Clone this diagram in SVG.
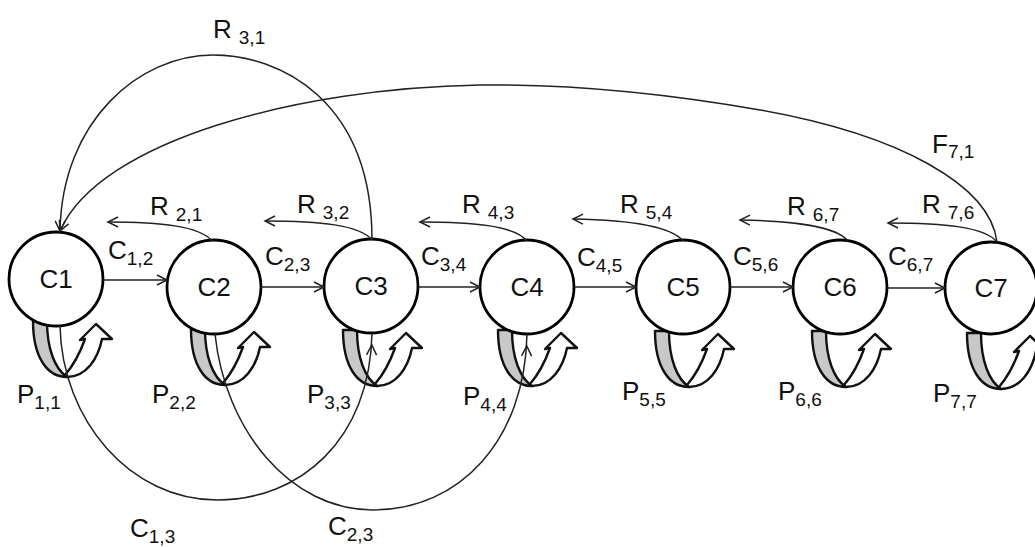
<svg xmlns="http://www.w3.org/2000/svg" xmlns:xlink="http://www.w3.org/1999/xlink" width="1035" height="547" viewBox="0 0 1035 547">
<style>
.t{font-family:"Liberation Sans",Arial,sans-serif;font-size:26px;fill:#111}
.s{font-size:19px}
.c{fill:#fff;stroke:#000;stroke-width:2.8}
.e{fill:none;stroke:#222;stroke-width:1.5}
.g{fill:#c8c8c8;stroke:#111;stroke-width:2.4;stroke-linejoin:round}
.w{fill:#fff;stroke:#111;stroke-width:2.4;stroke-linejoin:round}
</style>
<defs>
<marker id="ah" markerUnits="userSpaceOnUse" markerWidth="14" markerHeight="14" refX="11" refY="6" orient="auto" overflow="visible">
<path d="M1,1 L11,6 L1,11" fill="none" stroke="#222" stroke-width="1.5"/>
</marker>
<marker id="ahIn" markerUnits="userSpaceOnUse" markerWidth="14" markerHeight="14" refX="23" refY="6" orient="auto" overflow="visible">
<path d="M1,1 L11,6 L1,11" fill="none" stroke="#222" stroke-width="1.5"/>
</marker>
<g id="loop">
<path class="g" d="M-28,44 L-14,44 C-14,72 -6,92 6,100 C-14,100 -28,80 -28,44 Z"/>
<path class="w" d="M4,98 C11,90 19,76 24,62 L19,63 L35,47 L51,62 L41,62 C37,82 25,100 6,100 Z"/>
</g>
</defs>

<g id="C1">
<use xlink:href="#loop" transform="translate(61,277)"/>
<circle class="c" cx="56" cy="279" r="47"/>
<text class="t" x="56" y="288" text-anchor="middle">C1</text>
<text class="t" x="17" y="403">P<tspan class="s" dy="6">1,1</tspan></text>
</g>
<g id="C2">
<use xlink:href="#loop" transform="translate(219,285)"/>
<circle class="c" cx="214" cy="287" r="47"/>
<text class="t" x="214" y="296" text-anchor="middle">C2</text>
<text class="t" x="152" y="403">P<tspan class="s" dy="6">2,2</tspan></text>
</g>
<g id="C3">
<use xlink:href="#loop" transform="translate(371,286)"/>
<circle class="c" cx="371" cy="286" r="47"/>
<text class="t" x="371" y="295" text-anchor="middle">C3</text>
<text class="t" x="307" y="403">P<tspan class="s" dy="6">3,3</tspan></text>
</g>
<g id="C4">
<use xlink:href="#loop" transform="translate(526,286)"/>
<circle class="c" cx="527" cy="287" r="47"/>
<text class="t" x="527" y="296" text-anchor="middle">C4</text>
<text class="t" x="463" y="405">P<tspan class="s" dy="6">4,4</tspan></text>
</g>
<g id="C5">
<use xlink:href="#loop" transform="translate(683,287)"/>
<circle class="c" cx="683" cy="287" r="47"/>
<text class="t" x="683" y="296" text-anchor="middle">C5</text>
<text class="t" x="622" y="400">P<tspan class="s" dy="6">5,5</tspan></text>
</g>
<g id="C6">
<use xlink:href="#loop" transform="translate(840,287)"/>
<circle class="c" cx="840" cy="287" r="47"/>
<text class="t" x="840" y="296" text-anchor="middle">C6</text>
<text class="t" x="778" y="400">P<tspan class="s" dy="6">6,6</tspan></text>
</g>
<g id="C7">
<use xlink:href="#loop" transform="translate(995,289)"/>
<circle class="c" cx="991" cy="288" r="46"/>
<text class="t" x="991" y="297" text-anchor="middle">C7</text>
<text class="t" x="933" y="402">P<tspan class="s" dy="6">7,7</tspan></text>
</g>

<g id="connectors">
<path class="e" marker-end="url(#ah)" d="M103,280 L167,280"/>
<path class="e" marker-end="url(#ah)" d="M261,287 L324,287"/>
<path class="e" marker-end="url(#ah)" d="M418,287 L480,287"/>
<path class="e" marker-end="url(#ah)" d="M574,287 L636,287"/>
<path class="e" marker-end="url(#ah)" d="M730,287 L793,287"/>
<path class="e" marker-end="url(#ah)" d="M887,288 L945,288"/>

<path class="e" marker-end="url(#ah)" d="M212,241 C200,226 160,222 108,222"/>
<path class="e" marker-end="url(#ah)" d="M372,240 C360,225 320,221 265,221"/>
<path class="e" marker-end="url(#ah)" d="M527,241 C515,226 475,222 420,222"/>
<path class="e" marker-end="url(#ah)" d="M683,241 C671,226 630,220 573,219"/>
<path class="e" marker-end="url(#ah)" d="M848,241 C836,226 795,221 740,220"/>
<path class="e" marker-end="url(#ah)" d="M997,242 C985,227 945,223 888,223"/>

<path class="e" marker-end="url(#ah)" d="M372,240 C372,100 280,55 213,55 C140,55 62,120 60,231"/>
<path class="e" marker-end="url(#ah)" d="M997,242 C990,185 900,135 760,110 C680,96 580,84 480,85 C300,88 100,140 60,231"/>

<path class="e" marker-end="url(#ahIn)" d="M60,326 C62,420 130,500 217,500 C300,500 370,440 372,333"/>
<path class="e" marker-end="url(#ahIn)" d="M215,334 C225,430 290,510 373,510 C460,510 525,440 527,334"/>

<text class="t" x="108" y="259">C<tspan class="s" dy="6">1,2</tspan></text>
<text class="t" x="265" y="265">C<tspan class="s" dy="6">2,3</tspan></text>
<text class="t" x="421" y="265">C<tspan class="s" dy="6">3,4</tspan></text>
<text class="t" x="577" y="266">C<tspan class="s" dy="6">4,5</tspan></text>
<text class="t" x="733" y="265">C<tspan class="s" dy="6">5,6</tspan></text>
<text class="t" x="888" y="265">C<tspan class="s" dy="6">6,7</tspan></text>

<text class="t" x="150" y="215">R<tspan class="s" dx="7" dy="6">2,1</tspan></text>
<text class="t" x="297" y="213">R<tspan class="s" dx="7" dy="6">3,2</tspan></text>
<text class="t" x="462" y="213">R<tspan class="s" dx="7" dy="6">4,3</tspan></text>
<text class="t" x="620" y="213">R<tspan class="s" dx="7" dy="6">5,4</tspan></text>
<text class="t" x="787" y="215">R<tspan class="s" dx="7" dy="6">6,7</tspan></text>
<text class="t" x="922" y="213">R<tspan class="s" dx="7" dy="6">7,6</tspan></text>
<text class="t" x="213" y="38">R<tspan class="s" dx="7" dy="6">3,1</tspan></text>
<text class="t" x="932" y="153">F<tspan class="s" dy="5">7,1</tspan></text>

<text class="t" x="130" y="537">C<tspan class="s" dy="6">1,3</tspan></text>
<text class="t" x="328" y="535">C<tspan class="s" dy="6">2,3</tspan></text>
</g>
</svg>
